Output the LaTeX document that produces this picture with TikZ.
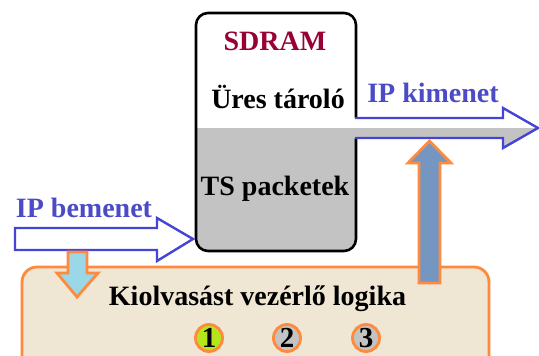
\documentclass[tikz,border=0pt]{standalone}
\usepackage{fontspec}
\setmainfont{Liberation Serif}
\definecolor{orangeC}{HTML}{FF8A3D}
\definecolor{beigeC}{HTML}{EFE6D3}
\definecolor{blueC}{HTML}{4545D5}
\definecolor{textblue}{HTML}{4B4BC8}
\definecolor{sdramred}{HTML}{990033}
\definecolor{upfill}{HTML}{7696C2}
\definecolor{downfill}{HTML}{9AD8E8}
\definecolor{greenC}{HTML}{B5E61D}
\definecolor{grayC}{HTML}{C3C3C3}
\tikzset{
  lbl/.style={font=\fontsize{28}{30}\selectfont\bfseries, anchor=base, inner sep=0pt},
  num/.style={circle, draw=orangeC, line width=2.8pt, minimum size=27pt, inner sep=0pt, font=\fontsize{29}{30}\selectfont\bfseries},
  blueline/.style={draw=blueC, line width=2.4pt, line join=miter},
  orangeline/.style={draw=orangeC, line width=2.8pt, line join=miter}
}
\begin{document}
\begin{tikzpicture}[x=1pt,y=-1pt]
\useasboundingbox (0,0) rectangle (539,356);
\clip (0,0) rectangle (539,356);
% logic box
\path[fill=beigeC, draw=orangeC, line width=2.8pt, rounded corners=15pt] (22,267) rectangle (489,372);
% SDRAM box
\path[fill=white, rounded corners=12pt] (196,13) rectangle (356,251);
\begin{scope}
\clip (180,128) rectangle (370,270);
\path[fill=grayC, rounded corners=12pt] (196,13) rectangle (356,251);
\end{scope}
\path[draw=black, line width=2.6pt, rounded corners=12pt] (196,13) rectangle (356,251);
% output arrow
\path[fill=white] (353,118) -- (503,118) -- (503,108) -- (538,128) -- (353,128) -- cycle;
\path[fill=grayC] (353,128) -- (538,128) -- (503,148) -- (503,138) -- (353,138) -- cycle;
\path[blueline] (355,118) -- (503,118) -- (503,108) -- (538,128) -- (503,148) -- (503,138) -- (355,138);
% input arrow
\path[blueline, fill=white] (15,228) -- (157,228) -- (157,218) -- (193,239) -- (157,261) -- (157,250) -- (15,250) -- cycle;
% down arrow
\path[orangeline, fill=downfill] (68,252) -- (87,252) -- (87,273) -- (98,273) -- (77,297) -- (57,273) -- (68,273) -- cycle;
% up arrow
\path[orangeline, fill=upfill] (419,283) -- (419,163) -- (408,163) -- (429.5,141) -- (451,163) -- (440,163) -- (440,283) -- cycle;
% texts
\node[lbl, text=sdramred] (sdram) at (275,50) {SDRAM};
\node[lbl] (ures) at (278,108) {Üres tároló};
\node[lbl] (ts) at (275,195) {TS packetek};
\node[lbl, text=textblue] (ipin) at (84,217) {IP bemenet};
\node[lbl, text=textblue] (ipout) at (433,102) {IP kimenet};
\node[lbl] (logic) at (257.5,305) {Kiolvasást vezérlő logika};
\node[num, fill=greenC] (n1) at (209,338) {1};
\node[num, fill=grayC] (n2) at (287,338) {2};
\node[num, fill=grayC] (n3) at (366,338) {3};
\end{tikzpicture}
\end{document}
